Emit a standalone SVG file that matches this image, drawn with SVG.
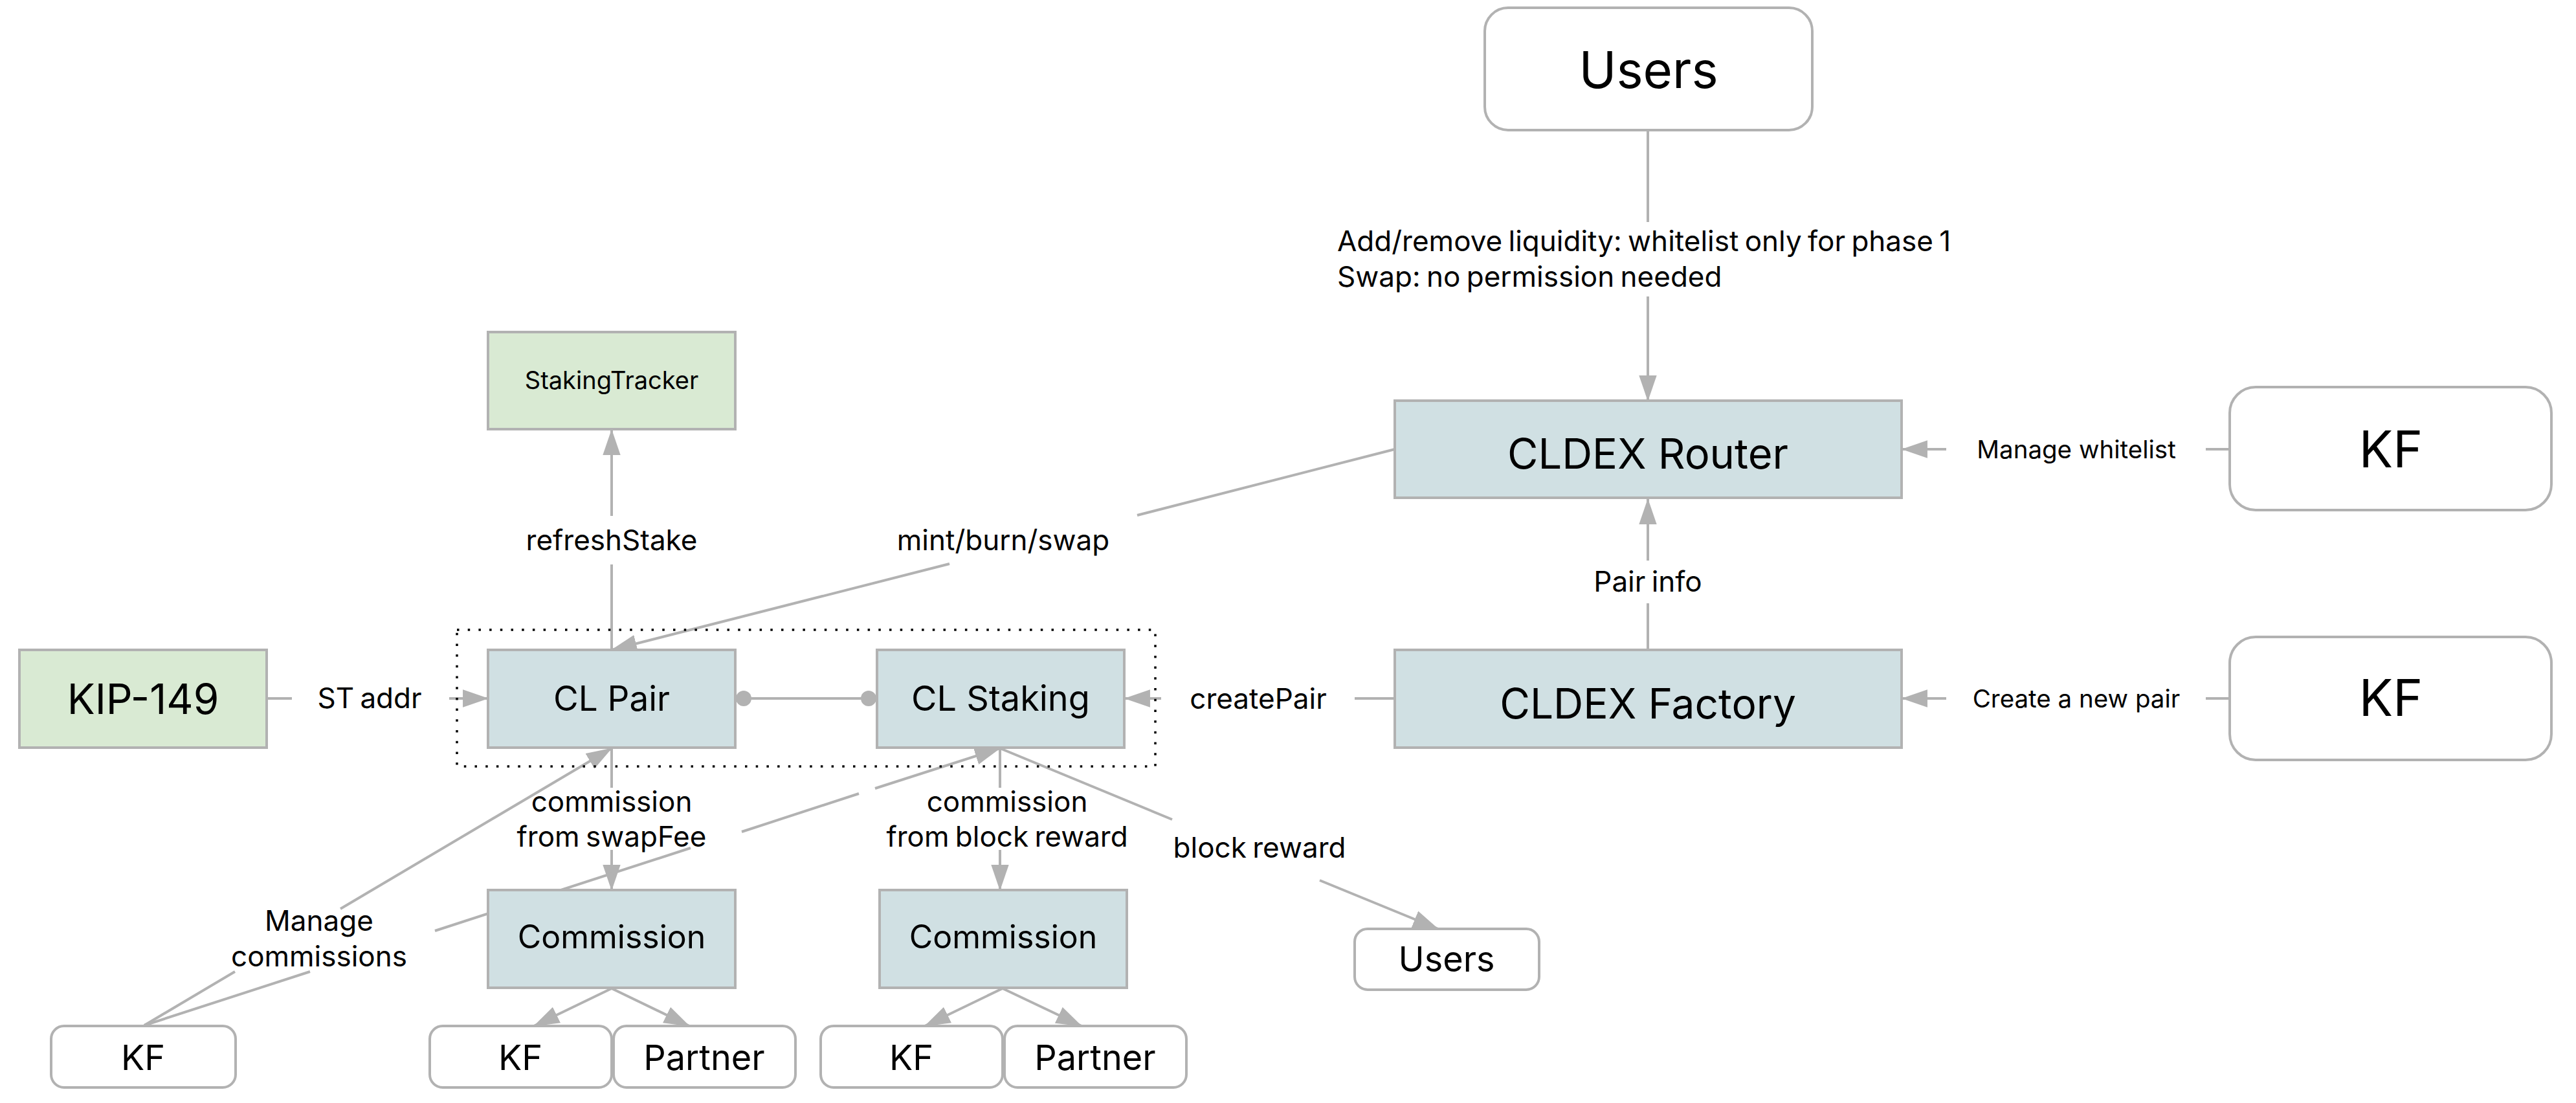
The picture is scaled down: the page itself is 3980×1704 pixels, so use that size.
<svg xmlns="http://www.w3.org/2000/svg" width="3980" height="1704" viewBox="0 0 3980 1704">
<style>
.box{stroke:#b2b2b2;stroke-width:4}
.blue{fill:#d0e0e3}
.green{fill:#d9ead3}
.white{fill:#ffffff}
.t{font-family:Inter,"Noto Sans","Liberation Sans",sans-serif;fill:#000;text-anchor:middle}
.lbl{font-family:Inter,"Noto Sans","Liberation Sans",sans-serif;fill:#000;font-size:44px;text-anchor:middle;word-spacing:-3px}
.sm{font-size:38.5px;word-spacing:0}
.ln{stroke:#b2b2b2;stroke-width:4;fill:none}
</style>
<defs>
<marker id="arr" markerUnits="userSpaceOnUse" markerWidth="40" markerHeight="28" viewBox="0 0 38 26" refX="37" refY="13" orient="auto">
<path d="M0,0 L38,13 L0,26 Z" fill="#b2b2b2"/>
</marker>
</defs>
<rect width="3980" height="1704" fill="#ffffff"/>
<g id="connectors">
<line class="ln" x1="2546" y1="201" x2="2546" y2="343"/>
<line class="ln" x1="2546" y1="458" x2="2546" y2="619" marker-end="url(#arr)"/>
<line class="ln" x1="3445" y1="694" x2="3408" y2="694"/>
<line class="ln" x1="3007" y1="694" x2="2939" y2="694" marker-end="url(#arr)"/>
<line class="ln" x1="2546" y1="1004" x2="2546" y2="932"/>
<line class="ln" x1="2546" y1="866" x2="2546" y2="771" marker-end="url(#arr)"/>
<line class="ln" x1="3445" y1="1079" x2="3408" y2="1079"/>
<line class="ln" x1="3007" y1="1079" x2="2939" y2="1079" marker-end="url(#arr)"/>
<line class="ln" x1="2155" y1="1079" x2="2093" y2="1079"/>
<line class="ln" x1="1794" y1="1079" x2="1738" y2="1079" marker-end="url(#arr)"/>
<line class="ln" x1="2155" y1="694" x2="1757" y2="796"/>
<line class="ln" x1="1467" y1="871" x2="945" y2="1004" marker-end="url(#arr)"/>
<line class="ln" x1="945" y1="1004" x2="945" y2="872"/>
<line class="ln" x1="945" y1="797" x2="945" y2="664" marker-end="url(#arr)"/>
<line class="ln" x1="412" y1="1079" x2="451" y2="1079"/>
<line class="ln" x1="694" y1="1079" x2="754" y2="1079" marker-end="url(#arr)"/>
<line class="ln" x1="1136" y1="1079" x2="1355" y2="1079"/>
<circle cx="1149" cy="1079" r="12" fill="#b2b2b2"/>
<circle cx="1342" cy="1079" r="12" fill="#b2b2b2"/>
<line class="ln" x1="945" y1="1156" x2="945" y2="1217"/>
<line class="ln" x1="945" y1="1313" x2="945" y2="1375" marker-end="url(#arr)"/>
<line class="ln" x1="1545" y1="1156" x2="1545" y2="1217"/>
<line class="ln" x1="1545" y1="1313" x2="1545" y2="1375" marker-end="url(#arr)"/>
<line class="ln" x1="1545" y1="1156" x2="1811" y2="1266"/>
<line class="ln" x1="2039" y1="1360" x2="2222" y2="1435" marker-end="url(#arr)"/>
<line class="ln" x1="223" y1="1584" x2="363" y2="1501"/>
<line class="ln" x1="526" y1="1404" x2="945" y2="1156" marker-end="url(#arr)"/>
<line class="ln" x1="223" y1="1584" x2="479" y2="1501"/>
<line class="ln" x1="672" y1="1438" x2="1067" y2="1310"/>
<line class="ln" x1="1146" y1="1285" x2="1327" y2="1226"/>
<line class="ln" x1="1352" y1="1218" x2="1545" y2="1156" marker-end="url(#arr)"/>
<line class="ln" x1="945" y1="1527" x2="825" y2="1585" marker-end="url(#arr)"/>
<line class="ln" x1="945" y1="1527" x2="1065" y2="1585" marker-end="url(#arr)"/>
<line class="ln" x1="1549" y1="1527" x2="1429" y2="1585" marker-end="url(#arr)"/>
<line class="ln" x1="1549" y1="1527" x2="1671" y2="1585" marker-end="url(#arr)"/>
</g>
<g id="labels">
<text class="lbl" style="text-anchor:start" x="2066" y="388">Add/remove liquidity: whitelist only for phase 1</text>
<text class="lbl" style="text-anchor:start" x="2066" y="443">Swap: no permission needed</text>
<text class="lbl sm" x="3208" y="708">Manage whitelist</text>
<text class="lbl sm" x="3208" y="1093">Create a new pair</text>
<text class="lbl" x="2546" y="914">Pair info</text>
<text class="lbl" x="1944" y="1095">createPair</text>
<text class="lbl" x="1550" y="850">mint/burn/swap</text>
<text class="lbl" x="945" y="850">refreshStake</text>
<text class="lbl" x="571" y="1094">ST addr</text>
<text class="lbl" x="945" y="1254">commission</text>
<text class="lbl" x="945" y="1308">from swapFee</text>
<text class="lbl" x="1556" y="1254">commission</text>
<text class="lbl" x="1556" y="1308" font-size="43">from block reward</text>
<text class="lbl" x="1946" y="1325" font-size="43">block reward</text>
<text class="lbl" x="493" y="1438">Manage</text>
<text class="lbl" x="493" y="1493">commissions</text>
</g>
<g id="group-box">
<rect x="706" y="973" width="1079" height="211" fill="none" stroke="#000" stroke-width="3.5" stroke-dasharray="3.5 13.2"/>
</g>
<g id="node-users-top">
<rect class="box white" x="2294" y="12" width="506" height="189" rx="36"/>
<text class="t" x="2547" y="136" font-size="78">Users</text>
</g>
<g id="node-router">
<rect class="box blue" x="2155" y="619" width="783" height="150"/>
<text class="t" x="2546" y="724" font-size="65">CLDEX Router</text>
</g>
<g id="node-factory">
<rect class="box blue" x="2155" y="1004" width="783" height="151"/>
<text class="t" x="2546" y="1110" font-size="64">CLDEX Factory</text>
</g>
<g id="node-kf-router">
<rect class="box white" x="3445" y="598" width="497" height="190" rx="40"/>
<text class="t" x="3694" y="722" font-size="78">KF</text>
</g>
<g id="node-kf-factory">
<rect class="box white" x="3445" y="984" width="497" height="190" rx="40"/>
<text class="t" x="3694" y="1106" font-size="78">KF</text>
</g>
<g id="node-stakingtracker">
<rect class="box green" x="754" y="513" width="382" height="150"/>
<text class="t" x="945" y="601" font-size="38">StakingTracker</text>
</g>
<g id="node-kip149">
<rect class="box green" x="30" y="1004" width="382" height="151"/>
<text class="t" x="221" y="1103" font-size="64">KIP-149</text>
</g>
<g id="node-clpair">
<rect class="box blue" x="754" y="1004" width="382" height="151"/>
<text class="t" x="945" y="1098" font-size="53">CL Pair</text>
</g>
<g id="node-clstaking">
<rect class="box blue" x="1355" y="1004" width="382" height="151"/>
<text class="t" x="1546" y="1098" font-size="54">CL Staking</text>
</g>
<g id="node-commission-1">
<rect class="box blue" x="754" y="1375" width="382" height="151"/>
<text class="t" x="945" y="1465" font-size="50">Commission</text>
</g>
<g id="node-commission-2">
<rect class="box blue" x="1359" y="1375" width="382" height="151"/>
<text class="t" x="1550" y="1465" font-size="50">Commission</text>
</g>
<g id="node-users-small">
<rect class="box white" x="2093" y="1435" width="285" height="94" rx="20"/>
<text class="t" x="2235" y="1501" font-size="54">Users</text>
</g>
<g id="node-kf-left">
<rect class="box white" x="79" y="1585" width="285" height="95" rx="20"/>
<text class="t" x="221" y="1653" font-size="54">KF</text>
</g>
<g id="node-kf-c1">
<rect class="box white" x="664" y="1585" width="281" height="95" rx="20"/>
<text class="t" x="804" y="1653" font-size="54">KF</text>
</g>
<g id="node-partner-c1">
<rect class="box white" x="948" y="1585" width="281" height="95" rx="20"/>
<text class="t" x="1088" y="1653" font-size="54">Partner</text>
</g>
<g id="node-kf-c2">
<rect class="box white" x="1268" y="1585" width="281" height="95" rx="20"/>
<text class="t" x="1408" y="1653" font-size="54">KF</text>
</g>
<g id="node-partner-c2">
<rect class="box white" x="1552" y="1585" width="281" height="95" rx="20"/>
<text class="t" x="1692" y="1653" font-size="54">Partner</text>
</g>
</svg>
